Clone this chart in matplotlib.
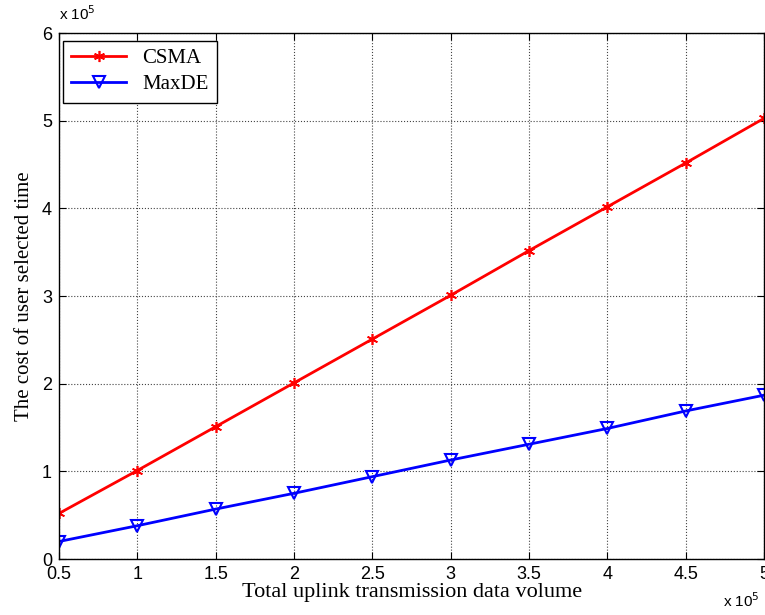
import matplotlib
matplotlib.use("Agg")
import matplotlib.pyplot as plt

# data (in units of 1e5)
data_volume = [0.5, 1.0, 1.5, 2.0, 2.5, 3.0, 3.5, 4.0, 4.5, 5.0]
csma = [0.52, 1.01, 1.51, 2.01, 2.51, 3.01, 3.52, 4.02, 4.52, 5.03]
maxde = [0.20, 0.38, 0.57, 0.75, 0.94, 1.13, 1.31, 1.49, 1.69, 1.87]

fig = plt.figure(figsize=(7.65, 6.15), dpi=100)
ax = fig.add_axes([0.077, 0.091, 0.922, 0.855])

ax.plot(data_volume, csma, color="red", lw=2, marker=(6, 2, 0), ms=8,
        mew=1.2, label="CSMA")
ax.plot(data_volume, maxde, color="blue", lw=2, marker="v", ms=9,
        mfc="none", mew=1.5, label="MaxDE")

ax.set_xlim(0.5, 5)
ax.set_ylim(0, 6)
ax.set_xticks(data_volume)
ax.set_xticklabels(["0.5", "1", "1.5", "2", "2.5", "3", "3.5", "4", "4.5", "5"])
ax.set_yticks(range(7))
ax.grid(True, color="#444444", ls=":", lw=0.8)
ax.tick_params(direction="in", length=5, labelsize=13, top=True, right=True, pad=5)
for lab in ax.get_xticklabels() + ax.get_yticklabels():
    lab.set_family("Liberation Sans")
for s in ax.spines.values():
    s.set_linewidth(1)

ax.set_xlabel("Total uplink transmission data volume", family="Liberation Serif",
              fontsize=16, labelpad=0)
ax.set_ylabel("The cost of user selected time", family="Liberation Serif",
              fontsize=15, labelpad=6)

fig.text(0.077, 0.977, r"x 10$^5$", family="Liberation Sans", fontsize=11,
         va="center", ha="left")
fig.text(0.945, 0.008, r"x 10$^5$", family="Liberation Sans", fontsize=11,
         va="bottom", ha="left")

leg = ax.legend(loc="upper left", prop={"family": "Liberation Serif", "size": 15},
                fancybox=False, edgecolor="black", framealpha=1,
                handlelength=2.6, borderpad=0.4, labelspacing=0.3,
                borderaxespad=0.1, bbox_to_anchor=(0.003, 0.99))
leg.get_frame().set_linewidth(1)

fig.savefig("out.png", dpi=100)
